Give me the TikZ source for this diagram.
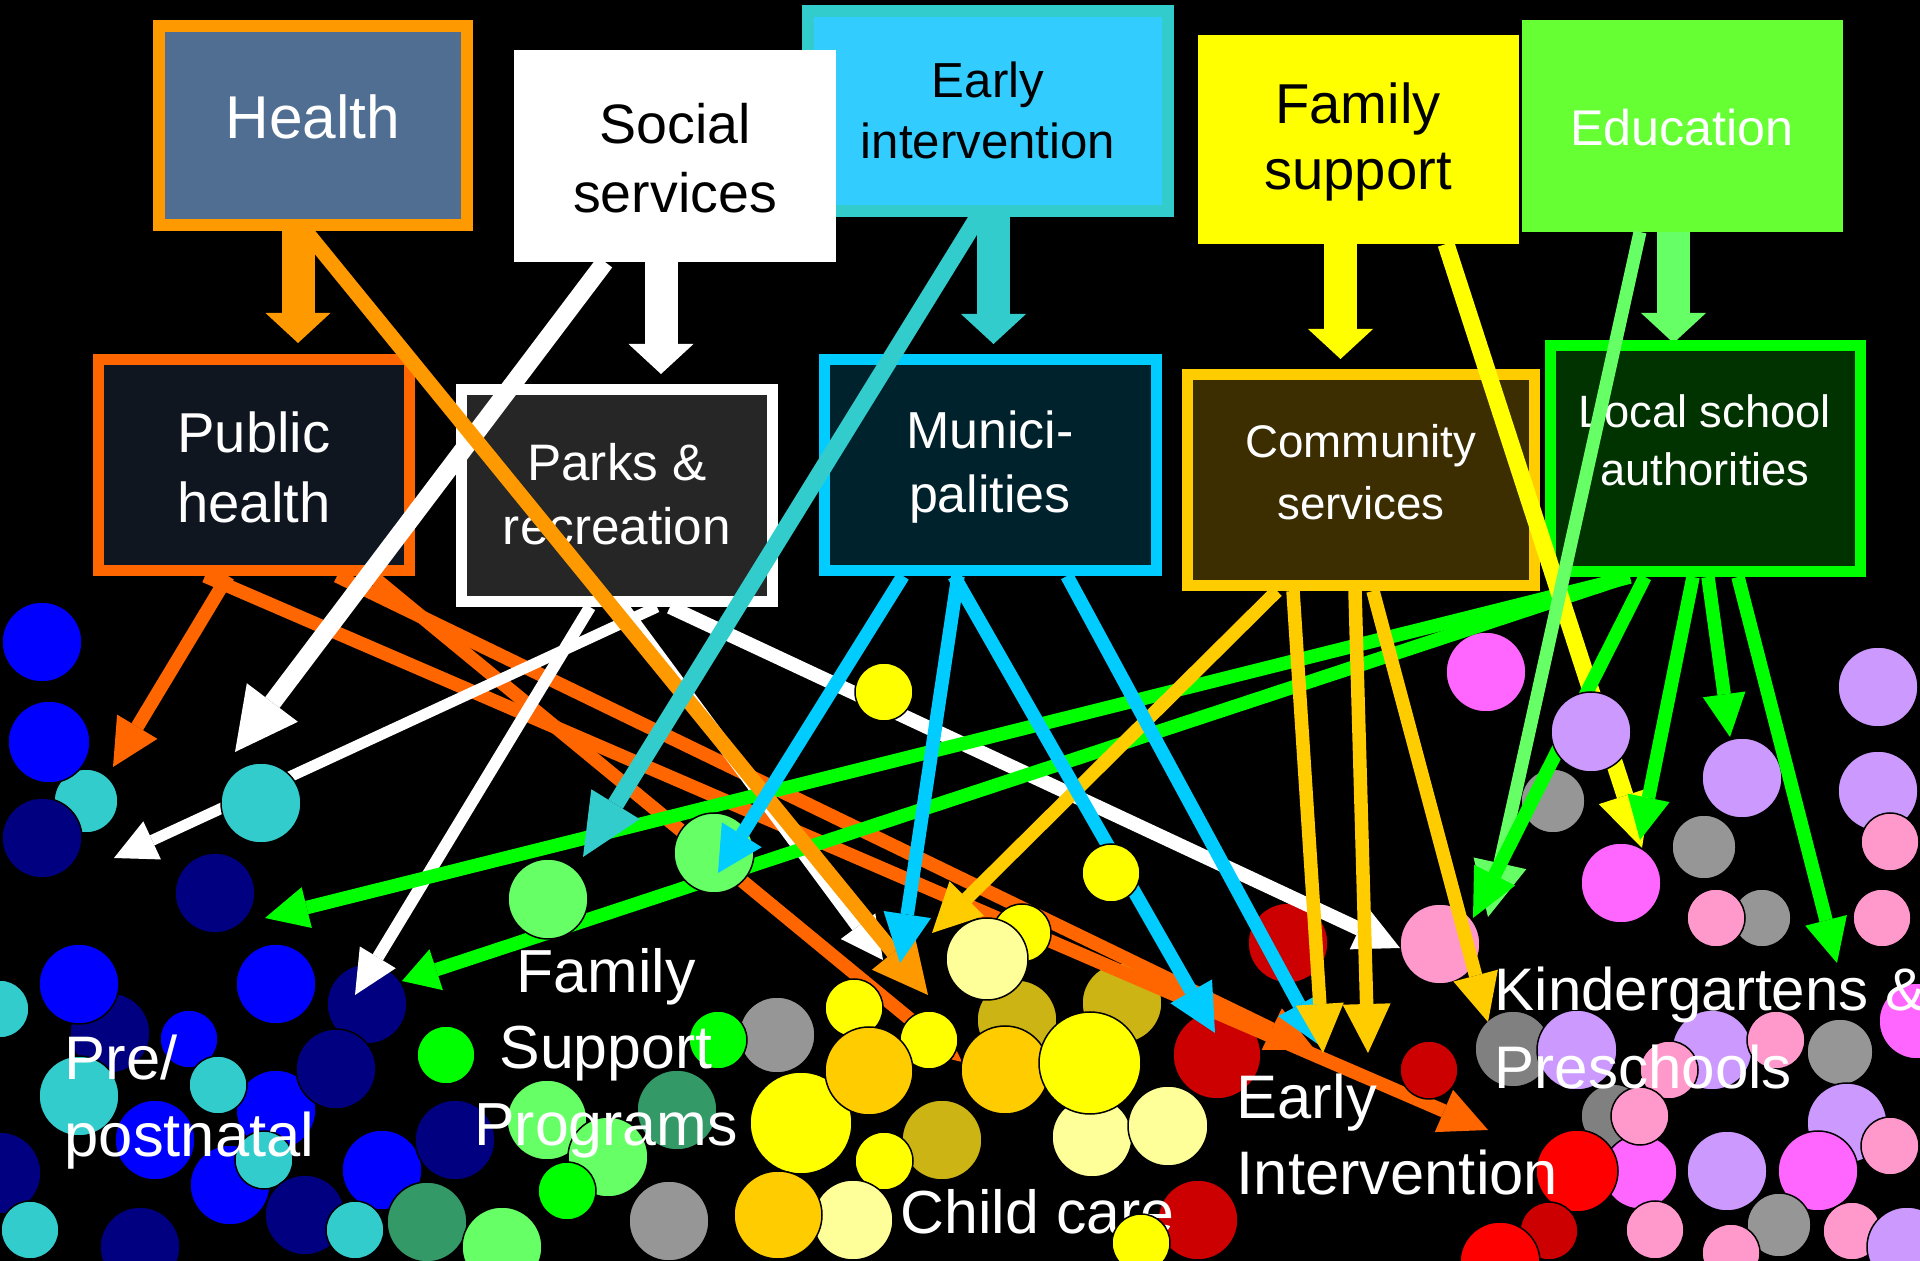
\documentclass[tikz,border=0pt]{standalone}
\usepackage{fontspec}
\setmainfont{Liberation Sans}
\usetikzlibrary{arrows.meta}
\definecolor{orgA}{RGB}{255,153,0}
\definecolor{orgB}{RGB}{255,102,0}
\definecolor{healthFill}{RGB}{80,110,145}
\definecolor{cTeal}{RGB}{51,204,204}
\definecolor{skyFill}{RGB}{51,204,255}
\definecolor{cyanB}{RGB}{0,204,255}
\definecolor{cGold}{RGB}{255,204,0}
\definecolor{lGreen}{RGB}{102,255,102}
\definecolor{eduFill}{RGB}{102,255,51}
\definecolor{cGreen}{RGB}{0,255,0}
\definecolor{dkGreen}{RGB}{51,153,102}
\definecolor{cBlue}{RGB}{0,0,255}
\definecolor{cNavy}{RGB}{0,0,128}
\definecolor{cGray}{RGB}{150,150,150}
\definecolor{cGrayD}{RGB}{128,128,128}
\definecolor{cYel}{RGB}{255,255,0}
\definecolor{cLYel}{RGB}{255,255,153}
\definecolor{cOlive}{RGB}{204,180,20}
\definecolor{cDRed}{RGB}{204,0,0}
\definecolor{cRed}{RGB}{255,0,0}
\definecolor{cPink}{RGB}{255,153,204}
\definecolor{cMag}{RGB}{255,102,255}
\definecolor{cLav}{RGB}{204,153,255}
\definecolor{phFill}{RGB}{16,22,32}
\definecolor{parksFill}{RGB}{38,38,38}
\definecolor{muniFill}{RGB}{0,34,44}
\definecolor{commFill}{RGB}{60,46,0}
\definecolor{localFill}{RGB}{0,51,0}
\newcommand\blob[4]{\filldraw[fill=#1,draw=black,line width=0.15mm] (#2,#3) circle[radius=#4];}
\tikzset{
 boxnode/.style={rectangle, inner sep=0pt, outer sep=0pt},
 boxtext/.style={inner sep=0pt, align=center, text=white},
 lbl/.style={inner sep=0pt, text=white, font=\fontsize{17.3}{20}\selectfont},
 blk/.style={line width=3.3mm, -{Triangle[length=3mm,width=6.5mm,line width=0pt]}},
 ar/.style n args={3}{line width=#1, -{Triangle[length=#2,width=#3,line width=0pt]}},
}
\begin{document}
\begin{tikzpicture}[x=0.1mm,y=-0.1mm]
\clip (0,0) rectangle (1920,1261);
\fill[black] (0,0) rectangle (1920,1261);
\useasboundingbox (0,0) rectangle (1920,1261);

% ---- top boxes
\node[boxnode, draw=orgA, fill=healthFill, line width=1.2mm, minimum width=30.8mm, minimum height=19.9mm] (health) at (313,125.5) {};
\node[boxnode, draw=cTeal, fill=skyFill, line width=1.2mm, minimum width=36mm, minimum height=20mm] (early) at (988,111) {};
\node[boxnode, fill=white, minimum width=32.2mm, minimum height=21.2mm] (social) at (675,156) {};
\node[boxnode, fill=cYel, minimum width=32.1mm, minimum height=20.9mm] (family) at (1358.5,139.5) {};
\node[boxnode, fill=eduFill, minimum width=32.1mm, minimum height=21.2mm] (edu) at (1682.5,126) {};

\node[boxtext, font=\fontsize{17.2}{20}\selectfont] (healthT) at (313,117) {Health};
\node[boxtext, text=black, font=\fontsize{15.8}{19.7}\selectfont] (socialT) at (675,158) {Social\\services};
\node[boxtext, text=black, font=\fontsize{14}{17.4}\selectfont] (earlyT) at (988,110) {Early\\intervention};
\node[boxtext, text=black, font=\fontsize{16}{19}\selectfont] (familyT) at (1358,142) {Family\\support};
\node[boxtext, font=\fontsize{14.3}{17}\selectfont] (eduT) at (1682,128) {Education};

% ---- block arrows
\coordinate (bh1) at (298,231);   \coordinate (bh2) at (298,343);
\coordinate (bs1) at (661,262);   \coordinate (bs2) at (661,374);
\coordinate (be1) at (993.5,217); \coordinate (be2) at (993.5,344);
\coordinate (bf1) at (1340.5,244);\coordinate (bf2) at (1340.5,359);
\coordinate (bd1) at (1673.5,232);\coordinate (bd2) at (1673.5,343);
\draw[blk, draw=orgA] (bh1) -- (bh2);
\draw[blk, draw=white] (bs1) -- (bs2);
\draw[blk, draw=cTeal] (be1) -- (be2);
\draw[blk, draw=cYel] (bf1) -- (bf2);
\draw[blk, draw=lGreen] (bd1) -- (bd2);

% ---- middle boxes
\node[boxnode, draw=orgB, fill=phFill, line width=1.1mm, minimum width=31.1mm, minimum height=21.1mm] (ph) at (254,465) {};
\node[boxnode, draw=white, fill=parksFill, line width=1.1mm, minimum width=31.1mm, minimum height=21.2mm] (parks) at (617,495.5) {};
\node[boxnode, draw=cyanB, fill=muniFill, line width=1.1mm, minimum width=33.2mm, minimum height=21.1mm] (muni) at (990.5,465) {};
\node[boxnode, draw=cGold, fill=commFill, line width=1.1mm, minimum width=34.7mm, minimum height=21.1mm] (comm) at (1361,480) {};
\node[boxnode, draw=cGreen, fill=localFill, line width=1.1mm, minimum width=31.0mm, minimum height=22.6mm] (local) at (1705.5,458.5) {};

\node[boxtext, font=\fontsize{16}{19.9}\selectfont] (phT) at (254,467) {Public\\health};
\node[boxtext, font=\fontsize{14.6}{18.2}\selectfont] (parksT) at (617,494) {Parks \&\\recreation};
\node[boxtext, font=\fontsize{14.8}{18.2}\selectfont] (muniT) at (990,467) {Munici-\\palities};
\node[boxtext, font=\fontsize{13}{17.6}\selectfont] (commT) at (1361,472) {Community\\services};
\node[boxtext, font=\fontsize{12.9}{16.5}\selectfont] (localT) at (1705,440) {Local school\\authorities};

% ---- background circles
\blob{cTeal}{86}{801}{32}
\blob{cBlue}{42}{642}{40}
\blob{cBlue}{49}{742}{41}
\blob{cNavy}{42}{838}{40}
\blob{cNavy}{215}{893}{40}
\blob{cNavy}{110}{1033}{40}
\blob{cBlue}{79}{984}{40}
\blob{cBlue}{276}{984}{40}
\blob{cNavy}{367}{1004}{40}
\blob{cTeal}{0}{1009}{29}
\blob{cBlue}{189}{1039}{29}
\blob{cBlue}{276}{1110}{40}
\blob{cTeal}{218}{1085}{29}
\blob{cNavy}{336}{1069}{40}
\blob{cTeal}{79}{1096}{40}
\blob{cGreen}{446}{1055}{29}
\blob{cBlue}{155}{1140}{40}
\blob{cNavy}{0}{1173}{41}
\blob{cBlue}{230}{1185}{40}
\blob{cTeal}{264}{1160}{29}
\blob{cBlue}{382}{1170}{40}
\blob{cNavy}{455}{1140}{40}
\blob{cNavy}{305}{1215}{40}
\blob{cTeal}{30}{1230}{29}
\blob{cNavy}{140}{1247}{40}
\blob{cTeal}{355}{1230}{29}
\blob{dkGreen}{427}{1222}{40}
\blob{lGreen}{502}{1247}{40}
\blob{cGray}{777}{1035}{38}
\blob{cGreen}{718}{1040}{29}
\blob{dkGreen}{677}{1110}{40}
\blob{lGreen}{547}{1120}{40}
\blob{lGreen}{608}{1157}{40}
\blob{cGreen}{567}{1191}{29}
\blob{cGray}{669}{1221}{40}
\blob{cOlive}{1017}{1020}{40}
\blob{cOlive}{1122}{1003}{40}
\blob{cOlive}{942}{1140}{40}
\blob{cLYel}{1092}{1137}{40}
\blob{cLYel}{1168}{1126}{40}
\blob{cDRed}{1198}{1220}{40}
\blob{cDRed}{1288}{943}{40}
\blob{cDRed}{1217}{1055}{44}
\blob{cMag}{1486}{672}{40}
\blob{cGray}{1553}{801}{32}
\blob{cPink}{1440}{944}{40}
\blob{cLav}{1742}{778}{40}
\blob{cGray}{1704}{847}{32}
\blob{cGray}{1762}{918}{29}
\blob{cPink}{1716}{918}{29}
\blob{cLav}{1878}{687}{40}
\blob{cLav}{1878}{791}{40}
\blob{cPink}{1890}{842}{29}
\blob{cPink}{1882}{918}{29}
\blob{cGrayD}{1513}{1049}{38}
\blob{cLav}{1577}{1050}{40}
\blob{cLav}{1712}{1050}{40}
\blob{cPink}{1669}{1070}{29}
\blob{cPink}{1776}{1040}{29}
\blob{cGray}{1840}{1052}{33}
\blob{cMag}{1917}{1021}{38}
\blob{cGrayD}{1613}{1116}{32}
\blob{cMag}{1640}{1172}{37}
\blob{cPink}{1640}{1116}{29}
\blob{cRed}{1577}{1171}{41}
\blob{cLav}{1727}{1171}{40}
\blob{cLav}{1847}{1123}{40}
\blob{cMag}{1818}{1171}{40}
\blob{cPink}{1890}{1146}{29}
\blob{cDRed}{1549}{1231}{29}
\blob{cRed}{1500}{1262}{40}
\blob{cPink}{1655}{1230}{29}
\blob{cGray}{1779}{1225}{32}
\blob{cPink}{1852}{1231}{29}
\blob{cPink}{1731}{1253}{29}
\blob{cLav}{1907}{1247}{40}

% ---- connector end points
\coordinate (a1s) at (304,229);  \coordinate (a1e) at (928,995);
\coordinate (s1s) at (605,262);  \coordinate (s1e) at (235,752);
\coordinate (e1s) at (978,217);  \coordinate (e1e) at (583,857);
\coordinate (f1s) at (1446,244); \coordinate (f1e) at (1642,848);
\coordinate (d1s) at (1640,232); \coordinate (d1e) at (1488,917);
\coordinate (p1s) at (228,576);  \coordinate (p1e) at (113,767);
\coordinate (oas) at (337,576);  \coordinate (oae) at (1315,1050);
\coordinate (obs) at (205,576);  \coordinate (obe) at (1488,1130);
\coordinate (ocs) at (372,576);  \coordinate (oce) at (962,1062);
\coordinate (s2s) at (657,607);  \coordinate (s2e) at (114,858);
\coordinate (s3s) at (590,607);  \coordinate (s3e) at (355,995);
\coordinate (s4s) at (622,607);  \coordinate (s4e) at (883,960);
\coordinate (s5s) at (670,607);  \coordinate (s5e) at (1400,948);
\coordinate (m1s) at (903,576);  \coordinate (m1e) at (718,873);
\coordinate (m2s) at (958,576);  \coordinate (m2e) at (900,963);
\coordinate (m3s) at (954,576);  \coordinate (m3e) at (1215,1033);
\coordinate (m4s) at (1067,576); \coordinate (m4e) at (1322,1047);
\coordinate (c1s) at (1277,591); \coordinate (c1e) at (932,933);
\coordinate (c2s) at (1293,591); \coordinate (c2e) at (1323,1053);
\coordinate (c3s) at (1355,591); \coordinate (c3e) at (1368,1053);
\coordinate (c4s) at (1373,591); \coordinate (c4e) at (1488,1022);
\coordinate (l1s) at (1630,577); \coordinate (l1e) at (265,918);
\coordinate (l2s) at (1627,577); \coordinate (l2e) at (402,981);
\coordinate (l3s) at (1645,577); \coordinate (l3e) at (1473,918);
\coordinate (l4s) at (1693,577); \coordinate (l4e) at (1640,840);
\coordinate (l5s) at (1708,577); \coordinate (l5e) at (1730,737);
\coordinate (l6s) at (1738,577); \coordinate (l6e) at (1837,963);

% ---- connectors
\draw[ar={1.35mm}{4.7mm}{4.7mm}, draw=orgB] (p1s) -- (p1e);
\draw[ar={1.35mm}{4.8mm}{4.6mm}, draw=orgB] (ocs) -- (oce);
\draw[ar={1.35mm}{4.8mm}{4.6mm}, draw=orgB] (oas) -- (oae);
\draw[ar={1.35mm}{4.8mm}{4.6mm}, draw=orgB] (obs) -- (obe);
\draw[ar={1.1mm}{4.2mm}{4.2mm}, draw=white] (s2s) -- (s2e);
\draw[ar={1.2mm}{4.4mm}{4.2mm}, draw=white] (s3s) -- (s3e);
\draw[ar={1.4mm}{4.2mm}{4.3mm}, draw=white] (s4s) -- (s4e);
\draw[ar={1.4mm}{4.5mm}{4.5mm}, draw=white] (s5s) -- (s5e);
\draw[ar={1.35mm}{4.3mm}{4.2mm}, draw=cGreen] (l1s) -- (l1e);
\draw[ar={1.35mm}{3.6mm}{4.3mm}, draw=cGreen] (l2s) -- (l2e);
\draw[ar={1.8mm}{6.2mm}{6.4mm}, draw=white] (s1s) -- (s1e);
\draw[ar={1.5mm}{5.5mm}{5.5mm}, draw=orgA] (a1s) -- (a1e);
\draw[ar={1.7mm}{6.2mm}{5.7mm}, draw=cTeal] (e1s) -- (e1e);
\draw[ar={1.35mm}{4.9mm}{4.9mm}, draw=cGold] (c1s) -- (c1e);
\draw[ar={1.35mm}{4.9mm}{4.8mm}, draw=cyanB] (m2s) -- (m2e);
\draw[ar={1.35mm}{4.8mm}{4.8mm}, draw=cyanB] (m3s) -- (m3e);
\draw[ar={1.35mm}{4.8mm}{4.8mm}, draw=cyanB] (m4s) -- (m4e);
\draw[ar={1.35mm}{4.9mm}{4.8mm}, draw=cGold] (c2s) -- (c2e);
\draw[ar={1.35mm}{4.9mm}{4.8mm}, draw=cGold] (c3s) -- (c3e);
\draw[ar={1.35mm}{4.8mm}{4.6mm}, draw=cGold] (c4s) -- (c4e);
\draw[ar={1.7mm}{5.5mm}{5.5mm}, draw=cYel] (f1s) -- (f1e);
\draw[ar={1.3mm}{5.5mm}{5.4mm}, draw=lGreen] (d1s) -- (d1e);
\draw[ar={1.35mm}{4.8mm}{4.6mm}, draw=cGreen] (l3s) -- (l3e);
\draw[ar={1.35mm}{4.3mm}{4.3mm}, draw=cGreen] (l4s) -- (l4e);
\draw[ar={1.35mm}{4.3mm}{4.3mm}, draw=cGreen] (l5s) -- (l5e);
\draw[ar={1.35mm}{4.4mm}{4.3mm}, draw=cGreen] (l6s) -- (l6e);

% ---- foreground circles
\blob{cTeal}{261}{803}{40}
\blob{lGreen}{548}{899}{40}
\blob{lGreen}{714}{853}{40}
\blob{cYel}{884}{692}{29}
\blob{cYel}{1111}{873}{29}
\blob{cYel}{1022}{933}{29}
\blob{cLYel}{987}{959}{41}
\blob{cYel}{801}{1123}{51}
\blob{cYel}{854}{1008}{29}
\blob{cYel}{929}{1040}{29}
\blob{cGold}{869}{1071}{44}
\blob{cYel}{884}{1161}{29}
\blob{cLYel}{853}{1220}{40}
\blob{cGold}{778}{1215}{44}
\blob{cGold}{1005}{1070}{44}
\blob{cYel}{1090}{1063}{51}
\blob{cDRed}{1429}{1070}{29}
\blob{cLav}{1591}{732}{40}
\blob{cMag}{1621}{883}{40}

\draw[ar={1.35mm}{4.5mm}{4.7mm}, draw=cyanB] (m1s) -- (m1e);

% ---- group labels
\node[lbl, anchor=base west, font=\fontsize{17.5}{20}\selectfont] (pre1) at (64,1080) {Pre/};
\node[lbl, anchor=base west, font=\fontsize{17.5}{20}\selectfont] (pre2) at (64,1156) {postnatal};
\node[lbl, anchor=base] (fsp1) at (606,992) {Family};
\node[lbl, anchor=base] (fsp2) at (606,1069) {Support};
\node[lbl, anchor=base] (fsp3) at (606,1145) {Programs};
\node[lbl, anchor=base west] (cc) at (900,1233) {Child care};
\node[lbl, anchor=base west, font=\fontsize{17.5}{20}\selectfont] (ei1) at (1236,1119) {Early};
\node[lbl, anchor=base west, font=\fontsize{17.5}{20}\selectfont] (ei2) at (1236,1195) {Intervention};
\node[lbl, anchor=base west, font=\fontsize{17.1}{20}\selectfont] (kp1) at (1494,1011) {Kindergartens \&};
\node[lbl, anchor=base west, font=\fontsize{17.1}{20}\selectfont] (kp2) at (1494,1088) {Preschools};

\blob{cYel}{1141}{1243}{29}
\end{tikzpicture}
\end{document}
